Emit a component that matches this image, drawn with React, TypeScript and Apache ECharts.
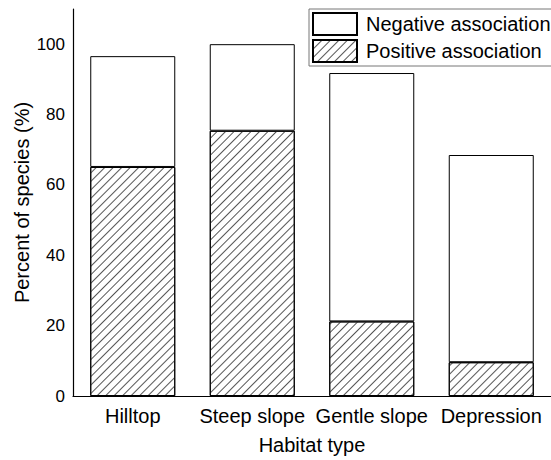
import React, { useEffect, useRef } from "react";
import * as echarts from "echarts";

const categories = ["Hilltop", "Steep slope", "Gentle slope", "Depression"];
const positiveValues = [65.1, 75.4, 21.2, 9.6];
const negativeValues = [31.5, 24.6, 70.6, 58.9];
const majorTicks = [0, 20, 40, 60, 80, 100];
const minorTicks = [10, 30, 50, 70, 90, 110];

const FONT = "'Liberation Sans', Arial, sans-serif";

const hatch = {
  symbol: "rect",
  symbolSize: 1,
  color: "#555",
  backgroundColor: "#fff",
  dashArrayX: [1, 0],
  dashArrayY: [1, 5],
  rotation: -Math.PI / 4,
};

export default function App() {
  const ref = useRef<HTMLDivElement>(null);
  useEffect(() => {
    const chart = echarts.init(ref.current!, null, { renderer: "svg" });
    chart.setOption({
      animation: false,
      backgroundColor: "#fff",
      textStyle: { fontFamily: FONT },
      grid: { left: 73, top: 9, width: 483, height: 387, containLabel: false },
      legend: {
        orient: "vertical",
        left: 309,
        top: 9,
        data: ["Negative association", "Positive association"],
        icon: "rect",
        itemWidth: 44,
        itemHeight: 22,
        itemGap: 3,
        padding: [3, 2, 3, 3],
        borderColor: "#777",
        borderWidth: 1,
        textStyle: { fontSize: 20, color: "#000", fontFamily: FONT, padding: [0, 0, 0, 4] },
      },
      xAxis: [
        {
          type: "category",
          data: categories,
          position: "bottom",
          axisLine: { lineStyle: { color: "#000", width: 1.2 } },
          axisTick: { inside: true, length: 5, lineStyle: { color: "#000" } },
          axisLabel: { fontSize: 20, color: "#000", margin: 10, interval: 0, fontFamily: FONT },
          name: "Habitat type",
          nameLocation: "middle",
          nameGap: 39,
          nameTextStyle: { fontSize: 20, color: "#000", fontFamily: FONT },
        },
        {
          type: "category",
          data: categories,
          position: "bottom",
          axisLine: { show: false },
          axisTick: { inside: true, alignWithLabel: true, interval: 0, length: 6, lineStyle: { color: "#000" } },
          axisLabel: { show: false },
        },
      ],
      yAxis: [
        {
          type: "value",
          min: 0,
          max: 110,
          interval: 10,
          position: "left",
          splitLine: { show: false },
          axisLine: { show: true, lineStyle: { color: "#000", width: 1.2 } },
          axisTick: { inside: true, length: 8, customValues: majorTicks, lineStyle: { color: "#000" } },
          axisLabel: { fontSize: 17, color: "#000", margin: 8, customValues: majorTicks, fontFamily: FONT },
          name: "Percent of species (%)",
          nameLocation: "middle",
          nameGap: 41,
          nameMoveOverlap: false,
          nameTextStyle: { fontSize: 20, color: "#000", fontFamily: FONT },
        },
        {
          type: "value",
          min: 0,
          max: 110,
          interval: 10,
          position: "left",
          splitLine: { show: false },
          axisLine: { show: false },
          axisTick: { inside: true, length: 5, customValues: minorTicks, lineStyle: { color: "#000" } },
          axisLabel: { show: false },
        },
      ],
      series: [
        {
          name: "Positive association",
          type: "bar",
          stack: "total",
          data: positiveValues,
          barWidth: 85,
          itemStyle: { color: "#fff", borderColor: "#000", borderWidth: 1, decal: hatch },
        },
        {
          name: "Negative association",
          type: "bar",
          stack: "total",
          data: negativeValues,
          barWidth: 85,
          itemStyle: { color: "#fff", borderColor: "#000", borderWidth: 1 },
        },
      ],
    });
    return () => chart.dispose();
  }, []);
  return (
    <div
      ref={ref}
      style={{ position: "fixed", left: 0, top: 0, width: 551, height: 460 }}
    />
  );
}
